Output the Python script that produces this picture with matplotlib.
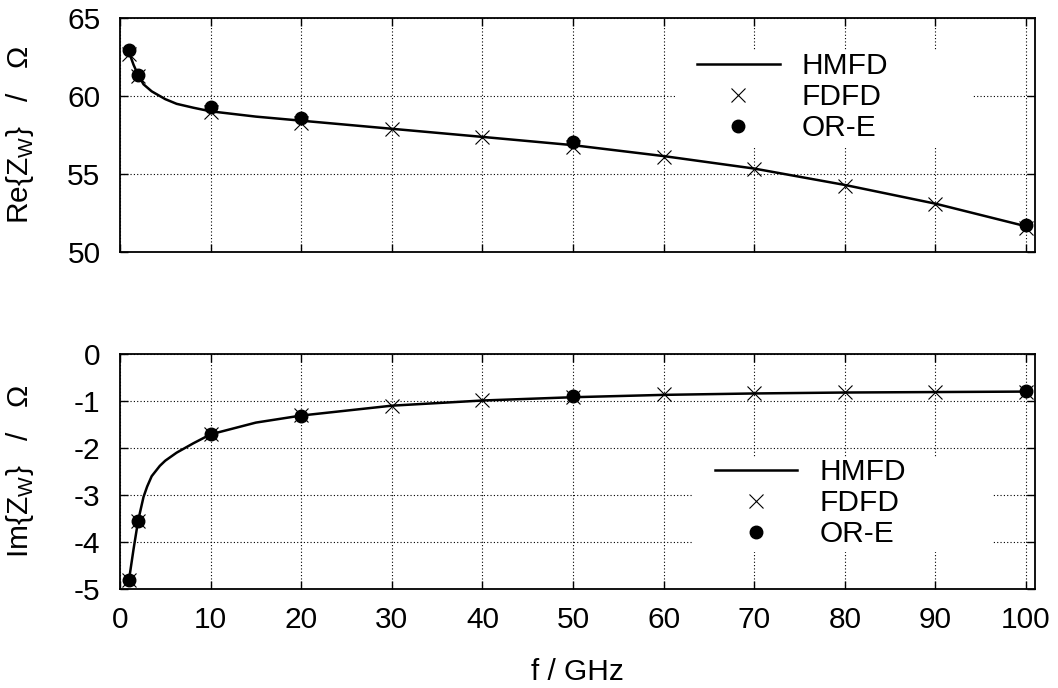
import matplotlib
matplotlib.use("Agg")
import matplotlib.pyplot as plt
from matplotlib.patches import Rectangle

plt.rcParams['font.family'] = ['Liberation Sans', 'DejaVu Sans']
plt.rcParams['mathtext.fontset'] = 'custom'
plt.rcParams['mathtext.rm'] = 'Liberation Sans'
plt.rcParams['font.size'] = 21.5

# HMFD curves
f_curve = [1, 1.5, 2, 2.6, 3.0, 3.5, 4.4, 5, 6.25, 8.1, 10, 15, 20, 30, 40, 50, 60, 70, 80, 90, 100]
re_curve = [62.8, 62.0, 61.35, 60.75, 60.55, 60.3, 60.0, 59.8, 59.5, 59.25, 59.02, 58.68,
            58.42, 57.9, 57.38, 56.85, 56.15, 55.35, 54.3, 53.1, 51.65]
im_curve = [-4.8, -4.15, -3.55, -3.04, -2.82, -2.6, -2.38, -2.27, -2.1, -1.9, -1.71, -1.46,
            -1.31, -1.1, -0.99, -0.92, -0.87, -0.84, -0.82, -0.81, -0.8]

# FDFD
f_fdfd = [1, 2, 10, 20, 30, 40, 50, 60, 70, 80, 90, 100]
re_fdfd = [62.7, 61.3, 59.0, 58.3, 57.88, 57.35, 56.75, 56.1, 55.32, 54.25, 53.06, 51.55]
im_fdfd = [-4.8, -3.55, -1.7, -1.3, -1.1, -0.98, -0.92, -0.86, -0.82, -0.81, -0.81, -0.8]

# OR-E
f_ore = [1, 2, 10, 20, 50, 100]
re_ore = [62.95, 61.35, 59.27, 58.6, 57.05, 51.73]
im_ore = [-4.81, -3.55, -1.71, -1.31, -0.9, -0.79]

fig = plt.figure(figsize=(10.58, 6.88), dpi=100)
ax1 = fig.add_axes([0.1134, 0.6337, 0.8649, 0.3401])
ax2 = fig.add_axes([0.1134, 0.1439, 0.8649, 0.3416])

def style(ax):
  ax.set_xlim(0, 101)
  ax.set_xticks(range(0, 101, 10))
  ax.set_axisbelow(True)
  ax.grid(True, color='black', linestyle=(0, (1, 2)), linewidth=0.8)
  ax.tick_params(direction='in', length=6, width=1, top=True, right=True, pad=14)
  for s in ax.spines.values():
    s.set_linewidth(1.3)

def draw(ax, yc, yf, yo, box, anchor):
  ax.add_patch(Rectangle(box[:2], box[2], box[3], transform=ax.transAxes,
                         facecolor='white', edgecolor='none', zorder=1))
  ax.plot(f_curve, yc, color='black', lw=1.8, label='HMFD', zorder=3)
  ax.plot(f_fdfd, yf, linestyle='none', marker='x', color='black', ms=9.5, mew=0.8, label='FDFD', zorder=4)
  ax.plot(f_ore, yo, linestyle='none', marker='o', color='black', ms=9, label='OR-E', zorder=5)
  leg = ax.legend(loc='center left', bbox_to_anchor=anchor, frameon=False, borderpad=0,
                  borderaxespad=0, handlelength=2.77, handletextpad=0.73, labelspacing=0.1,
                  fontsize=21.5)
  leg.set_zorder(6)

style(ax1)
style(ax2)
draw(ax1, re_curve, re_fdfd, re_ore, (0.6087, 0.449, 0.3235, 0.414), (0.6306, 0.662))
draw(ax2, im_curve, im_fdfd, im_ore, (0.626, 0.157, 0.327, 0.405), (0.650, 0.366))

ax1.set_ylim(50, 65)
ax1.set_yticks([50, 55, 60, 65])
ax1.tick_params(labelbottom=False)
ax2.set_ylim(-5, 0)
ax2.set_yticks([-5, -4, -3, -2, -1, 0])
ax2.set_yticklabels(['-5', '-4', '-3', '-2', '-1', '0'])
ax2.tick_params(axis='x', pad=12)

ax1.set_ylabel('Re{Z$_\\mathregular{W}$}   /   Ω')
ax2.set_ylabel('Im{Z$_\\mathregular{W}$}   /   Ω')
ax1.yaxis.set_label_coords(-0.092, 0.5)
ax2.yaxis.set_label_coords(-0.092, 0.5)
ax2.set_xlabel('f / GHz')
ax2.xaxis.set_label_coords(0.5, -0.295)

fig.savefig('out.png', dpi=100)
